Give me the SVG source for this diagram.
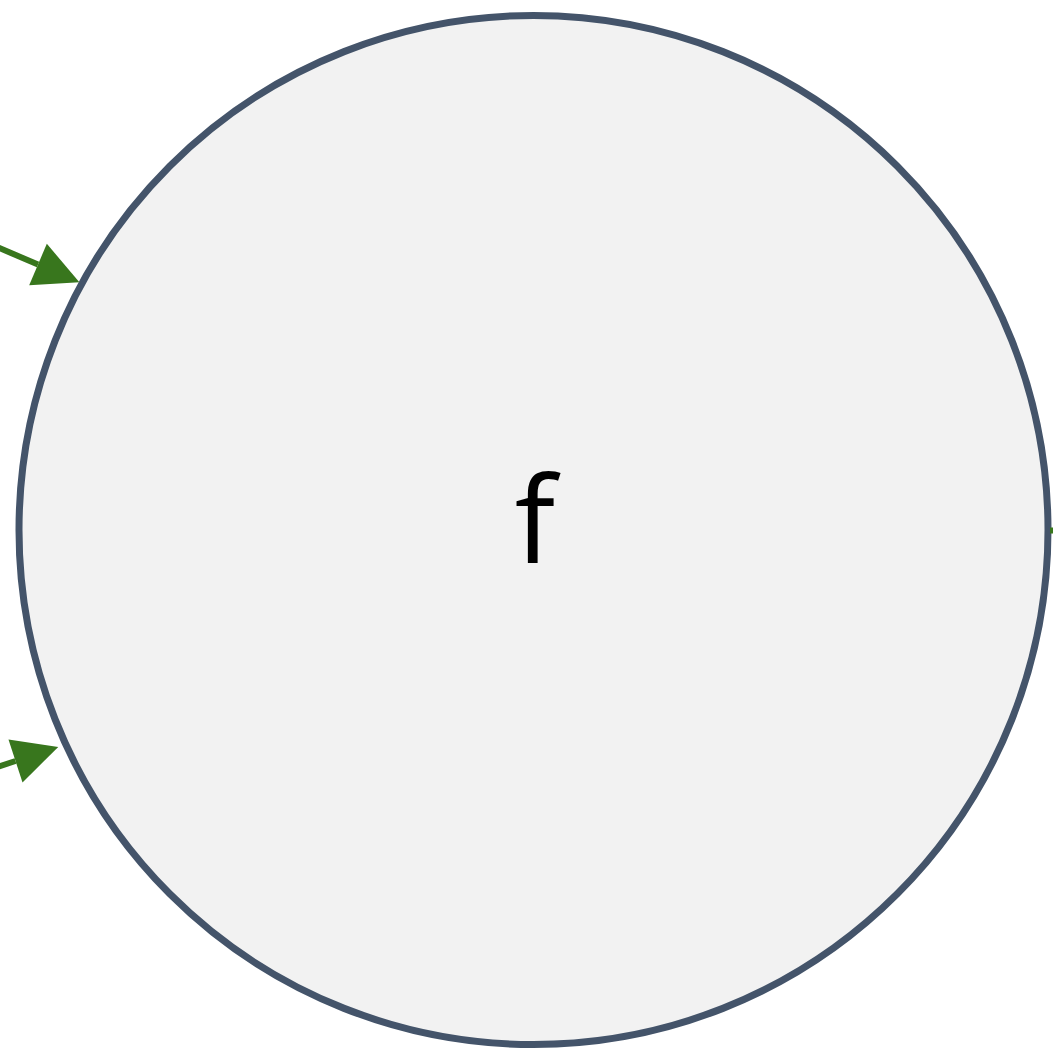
<svg xmlns="http://www.w3.org/2000/svg" width="1053" height="1056" viewBox="0 0 1053 1056">
  <style>
    .node { fill: #f2f2f2; stroke: #44546a; stroke-width: 7; }
    .label { font-family: "Open Sans", "Liberation Sans", sans-serif; font-size: 120px; fill: #000000; text-anchor: middle; }
    .edge { stroke: #38761d; stroke-width: 6; fill: none; }
  </style>
  <defs>
    <marker id="arrow" markerUnits="userSpaceOnUse" markerWidth="46" markerHeight="46" refX="0" refY="22.5" orient="auto" overflow="visible">
      <path d="M0,0 L45,22.5 L0,45 Z" fill="#38761d"/>
    </marker>
  </defs>
  <rect width="1053" height="1056" fill="#ffffff"/>
  <g id="node-f">
    <circle class="node" cx="533.5" cy="530" r="514.5"/>
    <text class="label" x="535" y="563">f</text>
  </g>
  <g id="connectors">
    <line class="edge" x1="-50" y1="227" x2="38" y2="264.5" marker-end="url(#arrow)"/>
    <line class="edge" x1="-50" y1="782.5" x2="15.5" y2="761" marker-end="url(#arrow)"/>
    <line class="edge" x1="1050" y1="530.5" x2="1110" y2="530.5"/>
  </g>
</svg>
